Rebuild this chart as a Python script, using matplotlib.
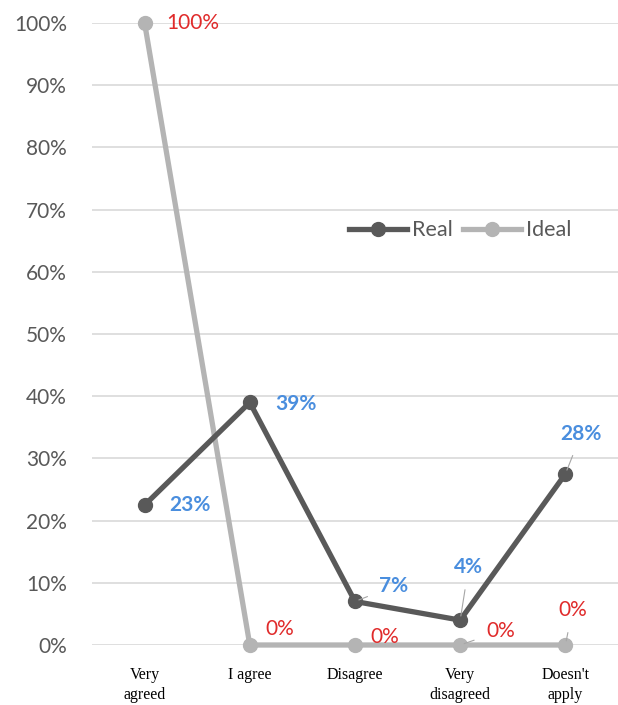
"""Real vs ideal agreement line chart."""

import matplotlib.pyplot as plt

categories = ["Very\nagreed", "I agree", "Disagree", "Very\ndisagreed", "Doesn't\napply"]
real = [0.225, 0.39, 0.07, 0.04, 0.275]
real_labels = ["23%", "39%", "7%", "4%", "28%"]
ideal = [1.0, 0.0, 0.0, 0.0, 0.0]
ideal_labels = ["100%", "0%", "0%", "0%", "0%"]

DARK = "#595959"
LIGHT = "#b4b4b4"
BLUE = "#4a8ede"
RED = "#e02b2b"

plt.rcParams["font.family"] = ["Lato", "DejaVu Sans"]

fig = plt.figure(figsize=(6.18, 7.05), dpi=100)
ax = fig.add_axes([92 / 618, 1 - 645 / 705, 526 / 618, 622 / 705])

x = list(range(len(categories)))
ax.plot(x, real, color=DARK, lw=3.8, marker="o", ms=10, label="Real",
        clip_on=False, zorder=4)
ax.plot(x, ideal, color=LIGHT, lw=3.8, marker="o", ms=10, label="Ideal",
        clip_on=False, zorder=3)

ax.set_xlim(-0.5, 4.5)
ax.set_ylim(0, 1.0)
ax.set_yticks([i / 10 for i in range(11)])
ax.set_yticklabels([f"{i * 10}%" for i in range(11)])
ax.grid(axis="y", color="#d9d9d9", lw=1.2)
ax.set_axisbelow(True)
for s in ax.spines.values():
    s.set_visible(False)
ax.tick_params(axis="y", length=0, pad=18, labelsize=15, labelcolor=DARK)
ax.set_xticks(x)
ax.set_xticklabels([])
ax.tick_params(axis="x", length=0)

for xi, lab in zip(x, categories):
    ax.annotate(lab, (xi, 0), xytext=(0, -16), textcoords="offset points",
                ha="center", va="top", fontsize=11.5, family="Liberation Serif",
                color="black", linespacing=1.3)

# data label offsets in points, and whether a leader line is drawn
real_off = [(33, 0, False), (33, -1, False), (28, 11, True), (6, 38, True), (11.5, 29, True)]
ideal_off = [(35, 0, False), (21.5, 11.5, False), (21.5, 6, False), (29, 10, True), (5, 25, True)]

for xi, yi, lab, (dx, dy, lead) in zip(x, real, real_labels, real_off):
    ax.annotate(lab, (xi, yi), xytext=(dx, dy), textcoords="offset points",
                ha="center", va="center", fontsize=15, fontweight="bold",
                color=BLUE, zorder=6,
                arrowprops=dict(arrowstyle="-", color="#a6a6a6", lw=0.8,
                                shrinkA=7, shrinkB=3) if lead else None)
for xi, yi, lab, (dx, dy, lead) in zip(x, ideal, ideal_labels, ideal_off):
    ax.annotate(lab, (xi, yi), xytext=(dx, dy), textcoords="offset points",
                ha="center", va="center", fontsize=15, color=RED, zorder=6,
                arrowprops=dict(arrowstyle="-", color="#a6a6a6", lw=0.8,
                                shrinkA=7, shrinkB=3) if lead else None)

leg = ax.legend(loc="center", bbox_to_anchor=(0.70, 0.667), ncol=2, frameon=False,
                fontsize=15.5, handlelength=2.7, columnspacing=0.5, handletextpad=0.2,
                borderaxespad=0)
for t in leg.get_texts():
    t.set_color(DARK)

fig.savefig("out.png", dpi=100)
